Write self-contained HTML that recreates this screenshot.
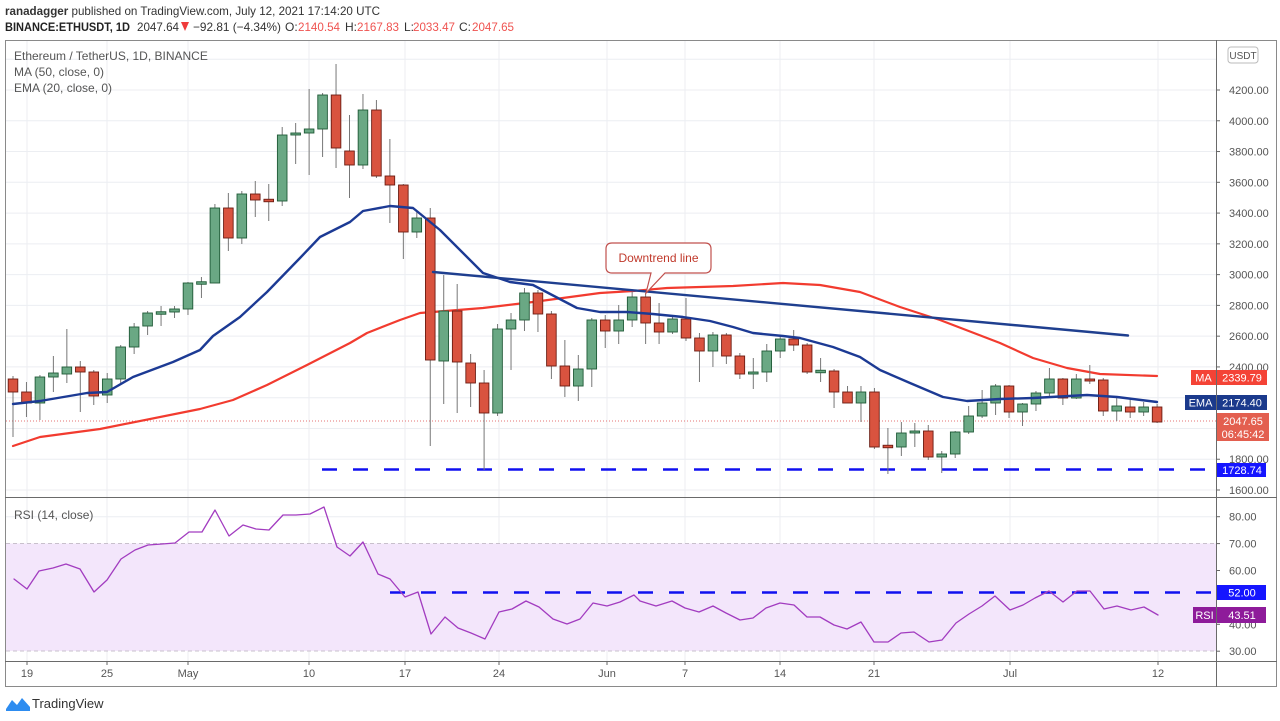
<!DOCTYPE html>
<html><head><meta charset="utf-8"><style>
html,body{margin:0;padding:0;background:#fff;width:1280px;height:721px;overflow:hidden}
svg{display:block;font-family:"Liberation Sans",sans-serif}
</style></head><body>
<svg id="c" width="1280" height="721" viewBox="0 0 1280 721" xmlns="http://www.w3.org/2000/svg">
<rect width="1280" height="721" fill="#fff"/>
<!-- header -->
<text x="5" y="15" font-size="12" fill="#333" textLength="375" lengthAdjust="spacingAndGlyphs"><tspan font-weight="bold">ranadagger</tspan> published on TradingView.com, July 12, 2021 17:14:20 UTC</text>
<text x="5" y="31" font-size="12" font-weight="bold" fill="#222" textLength="125" lengthAdjust="spacingAndGlyphs">BINANCE:ETHUSDT, 1D</text>
<text x="137" y="31" font-size="12" fill="#333" textLength="42" lengthAdjust="spacingAndGlyphs">2047.64</text>
<polygon points="181,22 189,22 185,31" fill="#ef3b3b"/>
<text x="193" y="31" font-size="12" fill="#333" textLength="88" lengthAdjust="spacingAndGlyphs">−92.81 (−4.34%)</text>
<text x="285" y="31" font-size="12" fill="#333">O:</text><text x="298" y="31" font-size="12" fill="#ef5350" textLength="42" lengthAdjust="spacingAndGlyphs">2140.54</text>
<text x="345" y="31" font-size="12" fill="#333">H:</text><text x="357" y="31" font-size="12" fill="#ef5350" textLength="42" lengthAdjust="spacingAndGlyphs">2167.83</text>
<text x="404" y="31" font-size="12" fill="#333">L:</text><text x="413" y="31" font-size="12" fill="#ef5350" textLength="42" lengthAdjust="spacingAndGlyphs">2033.47</text>
<text x="459" y="31" font-size="12" fill="#333">C:</text><text x="472" y="31" font-size="12" fill="#ef5350" textLength="42" lengthAdjust="spacingAndGlyphs">2047.65</text>

<g id="grid" stroke="#eceef2" stroke-width="1"></g>
<!-- RSI band -->
<rect x="6" y="543.5" width="1210" height="107.5" fill="#f3e6fb"/>
<line x1="6" y1="543.5" x2="1216" y2="543.5" stroke="#c8c0cc" stroke-dasharray="4,3"/>
<line x1="6" y1="651" x2="1216" y2="651" stroke="#c8c0cc" stroke-dasharray="4,3"/>
<g id="plot"></g>

<!-- frames -->
<rect x="5.5" y="40.5" width="1271" height="646" fill="none" stroke="#8a8a8a"/>
<line x1="1216.5" y1="40" x2="1216.5" y2="687" stroke="#6a6a6a"/>
<line x1="5" y1="497.5" x2="1277" y2="497.5" stroke="#6a6a6a"/>
<line x1="5" y1="661.5" x2="1277" y2="661.5" stroke="#6a6a6a"/>

<!-- legend -->
<g font-size="12" fill="#555">
<text x="14" y="60">Ethereum / TetherUS, 1D, BINANCE</text>
<text x="14" y="76">MA (50, close, 0)</text>
<text x="14" y="92">EMA (20, close, 0)</text>
<text x="14" y="519">RSI (14, close)</text>
</g>

<!-- callout -->
<path d="M612,243 H705 Q711,243 711,249 V267 Q711,273 705,273 H665 L646,293 L651,273 H612 Q606,273 606,267 V249 Q606,243 612,243 Z" fill="#fff" stroke="#c0504d" stroke-width="1.2"/>
<text x="658.5" y="262" font-size="12" fill="#c0392b" text-anchor="middle">Downtrend line</text>

<g id="axis" font-size="11" fill="#555"></g>

<!-- price labels -->
<rect x="1228" y="47" width="30" height="16" rx="3" fill="#fff" stroke="#bbb"/>
<text x="1243" y="59" font-size="10" fill="#555" text-anchor="middle">USDT</text>
<rect x="1191" y="370" width="25" height="15" fill="#f44336"/><text x="1203.5" y="381.5" font-size="11" fill="#fff" text-anchor="middle">MA</text>
<rect x="1217" y="370" width="50" height="15" fill="#f44336"/><text x="1242" y="381.5" font-size="11" fill="#fff" text-anchor="middle">2339.79</text>
<rect x="1185" y="395" width="31" height="15" fill="#1b3a8c"/><text x="1200.5" y="406.5" font-size="11" fill="#fff" text-anchor="middle">EMA</text>
<rect x="1217" y="395" width="50" height="15" fill="#1b3a8c"/><text x="1242" y="406.5" font-size="11" fill="#fff" text-anchor="middle">2174.40</text>
<rect x="1217" y="413" width="52" height="28" fill="#e35f4f"/><text x="1243" y="425" font-size="11" fill="#fff" text-anchor="middle">2047.65</text><text x="1243" y="438" font-size="11" fill="#fff" text-anchor="middle">06:45:42</text>
<rect x="1217" y="463" width="49" height="14" fill="#1515ff"/><text x="1242" y="474" font-size="11" fill="#fff" text-anchor="middle">1728.74</text>
<rect x="1217" y="585" width="49" height="15" fill="#1515ff"/><text x="1242" y="596.5" font-size="11" fill="#fff" text-anchor="middle">52.00</text>
<rect x="1193" y="607" width="23" height="16" fill="#8e1b9a"/><text x="1204.5" y="619" font-size="11" fill="#fff" text-anchor="middle">RSI</text>
<rect x="1217" y="607" width="49" height="16" fill="#8e1b9a"/><text x="1242" y="619" font-size="11" fill="#fff" text-anchor="middle">43.51</text>

<!-- logo -->
<g transform="translate(6,695)">
<path d="M0,14 L6,5 L11,10 L16,3 L24,12 L24,16 L0,16 Z" fill="#2d8cf0"/>
</g>
<text x="32" y="708" font-size="13" fill="#333">TradingView</text>
</svg>
<script>
(function(){
var NS="http://www.w3.org/2000/svg";
function el(p,t,a,txt){var e=document.createElementNS(NS,t);for(var k in a)e.setAttribute(k,a[k]);if(txt!=null)e.textContent=txt;p.appendChild(e);return e;}
var grid=document.getElementById('grid'),plot=document.getElementById('plot'),axis=document.getElementById('axis');
var py=function(p){return 90+(4200-p)*0.15385;};
// horizontal grid main
for(var p=1600;p<=4400;p+=200){var y=py(p);el(grid,'line',{x1:6,y1:y,x2:1216,y2:y});}
// rsi grid
[80,60,50,40].forEach(function(v){var y=516.7+(80-v)*2.69;el(grid,'line',{x1:6,y1:y,x2:1216,y2:y});});
// vertical grid + labels
var vx=[[27,'19'],[107,'25'],[188,'May'],[309,'10'],[405,'17'],[499,'24'],[607,'Jun'],[685,'7'],[780,'14'],[874,'21'],[1010,'Jul'],[1158,'12']];
vx.forEach(function(v){el(grid,'line',{x1:v[0],y1:41,x2:v[0],y2:661});el(axis,'line',{x1:v[0],y1:661,x2:v[0],y2:665,stroke:'#666'});el(axis,'text',{x:v[0],y:677,'text-anchor':'middle'},v[1]);});
// price axis labels
for(var p=1600;p<=4200;p+=200){if(p==2000||p==2200)continue;var y=py(p);el(axis,'line',{x1:1216,y1:y,x2:1220,y2:y,stroke:'#666'});el(axis,'text',{x:1229,y:y+4},p.toFixed(2));}
[[80],[70],[60],[40],[30]].forEach(function(v){var y=516.7+(80-v[0])*2.69;el(axis,'line',{x1:1216,y1:y,x2:1220,y2:y,stroke:'#666'});el(axis,'text',{x:1229,y:y+4},v[0].toFixed(2));});
// last price dotted
el(plot,'line',{x1:6,y1:421,x2:1216,y2:421,stroke:'#e57373','stroke-dasharray':'1,2','stroke-width':1});
var D=[[379,392,376,437],[392,403,382,417],[403,377,375,420],[377,373,356,392],[374,367,329,383],[367,372,361,412],[372,396,370,405],[395,379,373,403],[379,347,345,383],[347,327,323,354],[326,313,311,335],[313.5,312.5,306,326],[312,309,306,318],[309,283,282,315],[283.5,282.5,277,298],[283,208,204,283],[208,238,193,251],[238,194,191,244],[194,200,181,217],[200,201,184,221],[201,135,127,206],[135,133,123,164],[133,129,89,175],[129,95,93,157],[95,148,64,168],[151,165,115,198],[165,110,94,169],[110,176,100,178],[176,185,139,223],[185,232,184,259],[232,218,210,238],[218,360,208,446],[361,311,275,404],[311,362,284,413],[363,383,354,407],[383,413,370,470],[413,329,324,416],[329,320,313,370],[320,293,288,331],[293,314,290,332],[314,366,311,379],[366,386,340,397],[386,369,355,401],[369,320,318,387],[320,331,315,348],[331,320,305,344],[320,297,292,327],[297,323,293,344],[323,332,303,344],[332,319,315,334],[319,338,298,341],[338,351,333,382],[351,335,332,367],[335,356,333,364],[356,374,353,379],[374,372,358,389],[372,351,344,382],[351,339,335,358],[339,345,330,351],[345,372,343,374],[372,371,358,382],[371,392,369,408],[392,403,386,403],[403,392,386,422],[392,447,388,449],[446,447,428,474],[447,433,422,456],[433,431,423,447],[431,457,425,460],[457,454,451,473],[454,432,431,458],[432,416,406,434],[416,403,390,418],[403,386,384,415],[386,412,385,418],[412,404,403,426],[404,393,391,411],[393,379,368,398],[379,398,378,405],[398,379,374,399],[379,381,365,384],[380,411,378,416],[411,406,398,421],[407,412,398,418],[412,407,402,416],[407,422,404,423]];
// MA red
function line(pts,col,w){el(plot,'polyline',{points:pts.map(function(q){return q.join(',')}).join(' '),fill:'none',stroke:col,'stroke-width':w,'stroke-linejoin':'round','stroke-linecap':'round'});}
line([[13,446],[40,437],[100,429],[200,409],[233,400],[267,385],[307,365],[350,343],[367,333],[400,320],[420,313],[483,308],[533,302],[600,293],[633,291],[667,288],[700,287],[733,286],[783,283],[820,285],[860,292],[900,307],[940,320],[1000,343],[1033,358],[1067,368],[1100,374],[1157,376]],'#f23b2f',2.2);
// support dashed
el(plot,'line',{x1:322,y1:469.5,x2:1216,y2:469.5,stroke:'#1010f0','stroke-width':2.6,'stroke-dasharray':'15,16'});
// candles
D.forEach(function(d,i){var x=13+i*13.46,o=d[0],c=d[1],h=d[2],l=d[3];var up=c<o;
el(plot,'line',{x1:x,y1:h,x2:x,y2:l,stroke:'#777','stroke-width':1});
var t=Math.min(o,c),b=Math.max(o,c);if(b-t<1.5){t-=0.75;b+=0.75;}
el(plot,'rect',{x:x-4.8,y:t,width:9.6,height:b-t,fill:up?'#6aa884':'#d9533f',stroke:up?'#1f5a37':'#6b1c12','stroke-width':0.9});});
// EMA
line([[13,404],[40,401],[87,393],[107,392],[133,377],[173,362],[200,350],[213,336],[240,317],[267,292],[300,258],[320,237],[350,222],[363,211],[390,206],[413,208],[440,230],[483,273],[510,282],[533,285],[577,308],[600,312],[627,312],[653,314],[683,317],[710,321],[733,327],[753,333],[783,336],[800,338],[833,347],[860,357],[880,370],[910,383],[943,397],[967,401],[1000,399],[1033,398],[1087,395],[1117,397],[1157,402]],'#1c3a94',2.4);
// downtrend line
line([[433,272],[1128,335.5]],'#1f3f8f',2.4);
// RSI line
var rx=[14,27,39,53,66,80,94,107,121,135,148,162,175,189,202,215,229,243,256,269,283,296,310,324,337,350,363,378,390,405,418,431,445,458,471,485,499,512,526,539,553,567,580,593,607,620,634,640,656,672,685,699,713,726,740,753,766,780,794,807,820,834,847,861,874,888,901,914,929,942,956,969,982,995,1010,1023,1035,1049,1063,1077,1090,1104,1117,1131,1144,1158];
var ry=[579,589,571,568,564,569,592,580,559,550,545,544,543,532,532,510,536,525,529,530,515,515,514,507,547,556,542,574,579,597,592,634,617,628,633,639,612,609,601,607,619,624,619,603,606,602,595,601,606,601,608,612,606,613,620,618,608,603,605,617,617,625,629,622,642,642,633,632,642,640,623,614,606,596,610,605,598,591,602,591,591,609,606,610,607,615];
var rp=[];for(var i=0;i<rx.length;i++)rp.push([rx[i],ry[i]]);
el(plot,'line',{x1:390,y1:592.5,x2:1216,y2:592.5,stroke:'#1010f0','stroke-width':2.6,'stroke-dasharray':'15,16'});
line(rp,'#a23cc0',1.3);
})();
</script>
</body></html>
